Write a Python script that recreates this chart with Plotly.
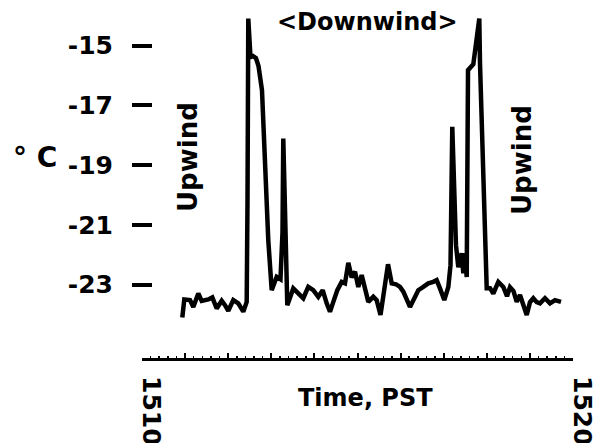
import plotly.graph_objects as go

# time in minutes after 15:10 PST
time_min = [0.935, 0.981, 1.114, 1.190, 1.306, 1.385, 1.538, 1.631, 1.733, 1.849,
            1.926, 2.002, 2.118, 2.234, 2.350, 2.429, 2.448, 2.466, 2.517, 2.575,
            2.645, 2.703, 2.784, 2.930, 3.009, 3.125, 3.213, 3.260, 3.278, 3.329,
            3.371, 3.510, 3.626, 3.742, 3.858, 3.974, 4.090, 4.193, 4.285, 4.362,
            4.439, 4.531, 4.633, 4.710, 4.787, 4.865, 4.942, 5.019, 5.097, 5.174,
            5.251, 5.367, 5.445, 5.534, 5.615, 5.708, 5.794, 5.893, 5.986, 6.063,
            6.218, 6.334, 6.411, 6.527, 6.643, 6.759, 6.837, 6.914, 7.014, 7.107,
            7.158, 7.199, 7.285, 7.339, 7.418, 7.455, 7.494, 7.534, 7.564, 7.687,
            7.826, 7.842, 7.998, 8.074, 8.151, 8.267, 8.383, 8.469, 8.538, 8.619,
            8.694, 8.770, 8.852, 8.926, 9.002, 9.079, 9.158, 9.234, 9.350, 9.466,
            9.582, 9.722]
temp_c = [-24.10, -23.50, -23.52, -23.75, -23.30, -23.55, -23.50, -23.43, -23.80, -23.54,
          -23.69, -23.88, -23.52, -23.63, -23.91, -23.58, -20.17, -14.09, -15.38, -15.35,
          -15.42, -15.68, -16.49, -21.51, -23.19, -22.74, -22.82, -21.24, -18.11, -21.01,
          -23.69, -23.13, -23.30, -23.46, -23.08, -23.19, -23.41, -23.19, -23.63, -23.91,
          -23.58, -23.19, -22.91, -22.96, -22.27, -22.76, -22.57, -23.08, -22.68, -23.19,
          -23.58, -23.41, -23.52, -24.02, -23.29, -22.32, -22.96, -22.99, -23.08, -23.24,
          -23.75, -23.41, -23.19, -23.08, -22.96, -22.91, -22.85, -23.13, -23.52, -23.08,
          -22.35, -17.72, -21.68, -22.42, -21.95, -22.62, -21.95, -22.75, -15.82, -15.62,
          -14.09, -15.58, -23.12, -23.12, -23.30, -22.91, -23.08, -23.39, -23.09, -23.22,
          -23.58, -23.35, -23.72, -24.02, -23.59, -23.46, -23.59, -23.63, -23.46, -23.63,
          -23.52, -23.58]

y_tickvals = [-15, -17, -19, -21, -23]
y_ticktext = ["-15", "-17", "-19", "-21", "-23"]
x_end_vals = [0, 10]
x_end_text = ["1510", "1520"]

FONT = "DejaVu Sans"
fs = 24

fig = go.Figure()
fig.add_trace(go.Scatter(x=time_min, y=temp_c, mode="lines",
                         line=dict(color="black", width=4.5), showlegend=False,
                         hoverinfo="skip"))
fig.add_trace(go.Scatter(x=[], y=[], xaxis="x2", showlegend=False))

fig.update_layout(
    width=601, height=443,
    margin=dict(l=142, r=28, t=0, b=85, autoexpand=False),
    paper_bgcolor="white", plot_bgcolor="white",
    font=dict(family=FONT, size=fs, color="black"),
    xaxis=dict(range=[0, 10], showgrid=False, zeroline=False, automargin=False,
               showline=True, linecolor="black", linewidth=3,
               tickvals=x_end_vals, ticktext=x_end_text,
               ticks="inside", ticklen=28, tickwidth=3, tickcolor="black",
               tickangle=90, ticklabelstandoff=10, ticklabelshift=9,
               tickfont=dict(family=FONT, size=25, weight="bold"),
               minor=dict(dtick=1, tick0=0, ticks="inside", ticklen=5,
                          tickwidth=2, tickcolor="black")),
    xaxis2=dict(range=[0, 10], overlaying="x", anchor="y", side="bottom",
                showgrid=False, zeroline=False, showline=False, automargin=False,
                dtick=0.2, tick0=0, ticks="inside", ticklen=2, tickwidth=1.5,
                tickcolor="black", showticklabels=False),
    yaxis=dict(range=[-25.46, -13.47], showgrid=False, zeroline=False,
               showline=False, anchor="free", position=10 / 431, automargin=False,
               tickvals=y_tickvals, ticktext=y_ticktext,
               ticks="outside", ticklen=20, tickwidth=4, tickcolor="black",
               ticklabelstandoff=14,
               tickfont=dict(family=FONT, size=25, weight="bold")),
)

bold = dict(family=FONT, size=fs, color="black", weight="bold")
fig.add_annotation(text="<Downwind>", xref="paper", yref="paper",
                   x=225 / 431, y=1 - 22 / 358, showarrow=False,
                   xanchor="center", yanchor="middle", font=bold)
fig.add_annotation(text="Upwind", xref="paper", yref="paper",
                   x=46 / 431, y=1 - 157 / 358, showarrow=False, textangle=-90,
                   xanchor="center", yanchor="middle",
                   font=dict(family=FONT, size=26, color="black", weight="bold"))
fig.add_annotation(text="Upwind", xref="paper", yref="paper",
                   x=380 / 431, y=1 - 160 / 358, showarrow=False, textangle=-90,
                   xanchor="center", yanchor="middle",
                   font=dict(family=FONT, size=26, color="black", weight="bold"))
fig.add_annotation(text="° C", xref="paper", yref="paper",
                   x=(35 - 142) / 431, y=1 - 158 / 358, showarrow=False,
                   xanchor="center", yanchor="middle",
                   font=dict(family=FONT, size=28, color="black", weight="bold"))
fig.add_annotation(text="Time, PST", xref="paper", yref="paper",
                   x=(365 - 142) / 431, y=1 - 398 / 358, showarrow=False,
                   xanchor="center", yanchor="middle", font=bold)

fig.write_html("out.html",
               config={"displayModeBar": False, "staticPlot": True},
               post_script="document.body.style.margin='0';"
                           "document.body.style.overflow='hidden';")
